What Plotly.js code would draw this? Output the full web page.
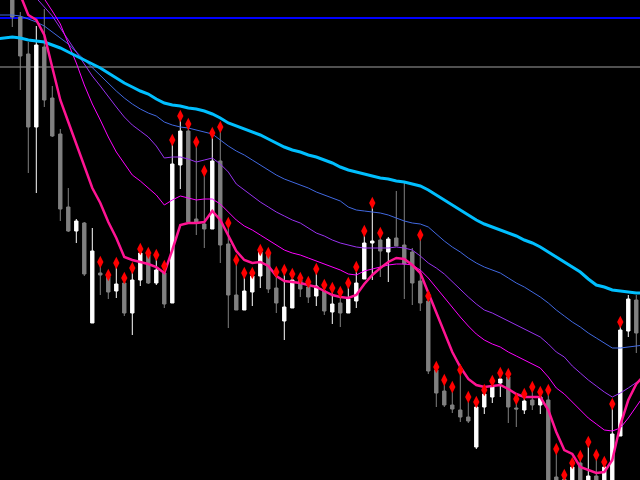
<!DOCTYPE html>
<html>
<head>
<meta charset="utf-8">
<script src="https://cdn.plot.ly/plotly-3.0.1.min.js"></script>
<style>html,body{margin:0;padding:0;background:#000;}#chart{width:640px;height:480px;}</style>
</head>
<body>
<div id="chart"></div>
<script>
// bar index 0..78
var bars = [];
for (var k = 0; k <= 78; k++) bars.push(k);
var lineBars = [];
for (var k = -2; k <= 79; k++) lineBars.push(k);

var openP  = [488,463,426,353,433,382,346,273,249,257,157,207,203,189,197,167,200,225,197,207,177,315,349,261,256,251,319,236,185,170,188,204,226,192,159,172,200,193,184,189,168,177,167,179,201,237,240,228,242,235,228,199,179,110,89,75,70,63,33,73,83,97,103,72,70,80,75,80,3,1,-12,17,-8,4,-8,-8,44,149,180];
var highP  = [495,468,438,454,471,394,351,292,261,258,252,215,204,213,200,211,228,227,225,214,337,360,352,335,305,343,350,252,217,203,204,228,226,207,208,203,200,196,210,193,189,184,193,208,245,274,243,243,289,297,232,242,181,110,97,90,105,78,75,88,97,105,103,80,83,90,85,87,27,3,13,20,33,20,13,72,154,185,185];
var lowP   = [453,390,307,287,373,343,259,248,237,204,157,185,181,182,164,145,194,196,195,172,177,291,258,245,232,251,217,152,170,170,174,192,187,167,140,172,183,177,174,165,156,153,167,172,201,200,203,198,234,181,175,169,106,73,73,67,58,57,31,66,77,83,57,53,66,70,66,-15,-20,-20,-20,-20,-20,-20,-20,-20,44,143,127];
var closeP = [463,424,353,435,380,344,271,249,259,206,229,205,188,196,167,200,227,197,210,176,316,349,258,257,251,319,235,185,170,189,204,228,191,177,173,200,191,183,194,169,176,167,181,197,237,239,229,241,234,216,197,177,109,87,75,71,63,59,73,86,93,101,73,71,79,75,83,-5,-10,-12,13,-8,4,-8,13,46,150,181,147];

// signal arrows (diamonds) above bars
var signalP = [null,null,null,null,null,null,null,null,null,null,null,218,205,217,202,212,231,227,225,214,340,364,356,338,309,347,353,257,220,207,207,230,227,208,210,206,202,198,211,195,192,188,197,213,249,277,247,null,null,null,null,245,184,113,100,93,110,83,78,90,99,107,106,81,86,93,88,90,31,5,17,24,38,25,18,76,158,null,null];

// moving averages (index -2..79)
var maFast = [530,515,500,485,465,460,445,413,380,358,336,312,292,277,258,242,223,220,218,216,213,207,230,255,257,257,258,269,260,244,229,220,217,218,214,204,199,198,197,195,193,189,185,183,182,185,196,205,212,218,222,221,215,207,187,166,146,128,113,101,95,93,94,95,91,86,83,83,83,70,48,30,26,13,10,7,8,20,55,80,96,105];
var ma2 = [554,542,530,518,506,494,481,469,456,437,417,395,376,360,343,328,317,305,299,292,285,275,280,284,282,280,281,281,276,268,260,254,250,245,240,235,230,227,225,222,219,216,213,210,206,205,209,211,213,215,216,216,215,210,202,192,182,172,163,154,146,140,136,133,128,124,120,116,112,103,92,86,78,70,62,56,50,49,52,62,74,85];
var ma3 = [527,518,509,500,491,482,473,464,452,440,428,416,404,394,383,373,363,355,349,343,334,322,323,323,321,318,320,322,316,308,296,290,284,278,273,268,264,260,257,252,247,244,240,237,235,233,232,232,232,232,233,232,230,224,217,212,206,198,190,183,176,170,167,163,159,155,151,147,143,136,128,123,114,107,100,94,88,83,87,92,98,103];
var ma4 = [465,465,465,464,461,458,454,448,442,436,428,420,412,404,396,389,382,376,371,367,364,358,355,353,352,350,348,346,340,334,329,325,320,315,310,305,301,298,295,292,288,285,282,279,273,270,269,268,267,265,262,259,257,256,253,246,239,233,228,222,217,213,210,207,202,197,193,188,183,177,170,164,158,153,147,142,137,132,132,133,134,135];
var maSlow = [441,442,443,442,440,439,438,435,432,428,424,420,416,412,407,402,397,393,389,386,381,377,375,374,372,371,369,366,362,357,354,351,348,345,341,337,333,330,328,325,323,320,317,313,310,308,306,304,302,301,299,298,296,294,290,285,280,275,270,265,260,256,253,250,247,244,240,237,233,228,223,218,213,208,201,195,193,190,189,188,187,187];

var levelHigh = 462;
var levelMid = 413;

var traces = [
  {type:'candlestick', x:bars, open:openP, high:highP, low:lowP, close:closeP,
   increasing:{line:{color:'#ffffff', width:1}, fillcolor:'#ffffff'},
   decreasing:{line:{color:'#808080', width:1}, fillcolor:'#808080'},
   whiskerwidth:0, hoverinfo:'skip'},
  {type:'scatter', mode:'lines', x:lineBars, y:ma4, line:{color:'#4169e1', width:1}, hoverinfo:'skip'},
  {type:'scatter', mode:'lines', x:lineBars, y:ma3, line:{color:'#9932f0', width:1}, hoverinfo:'skip'},
  {type:'scatter', mode:'lines', x:lineBars, y:ma2, line:{color:'#ff00ff', width:1}, hoverinfo:'skip'},
  {type:'scatter', mode:'lines', x:lineBars, y:maSlow, line:{color:'#00bfff', width:3}, hoverinfo:'skip'},
  {type:'scatter', mode:'lines', x:lineBars, y:maFast, line:{color:'#ff1493', width:2.5}, hoverinfo:'skip'},
  {type:'scatter', mode:'markers', x:bars, y:signalP,
   marker:{symbol:'diamond-tall', size:9, color:'#ff0000', line:{width:0}}, hoverinfo:'skip'}
];

var layout = {
  width:640, height:480,
  margin:{l:0, r:0, t:0, b:0, pad:0},
  paper_bgcolor:'#000000', plot_bgcolor:'#000000',
  showlegend:false,
  boxgap:0.4,
  xaxis:{range:[-1.5375, 78.4625], visible:false, showgrid:false, zeroline:false, rangeslider:{visible:false}, fixedrange:true},
  yaxis:{range:[0, 480], visible:false, showgrid:false, zeroline:false, fixedrange:true},
  shapes:[
    {type:'line', xref:'paper', x0:0, x1:1, yref:'y', y0:levelHigh, y1:levelHigh, line:{color:'#0000ff', width:2}, layer:'below'},
    {type:'line', xref:'paper', x0:0, x1:1, yref:'y', y0:levelMid, y1:levelMid, line:{color:'#a0a0a0', width:1}, layer:'below'}
  ]
};

Plotly.newPlot('chart', traces, layout, {staticPlot:true, displayModeBar:false});
</script>
</body>
</html>
